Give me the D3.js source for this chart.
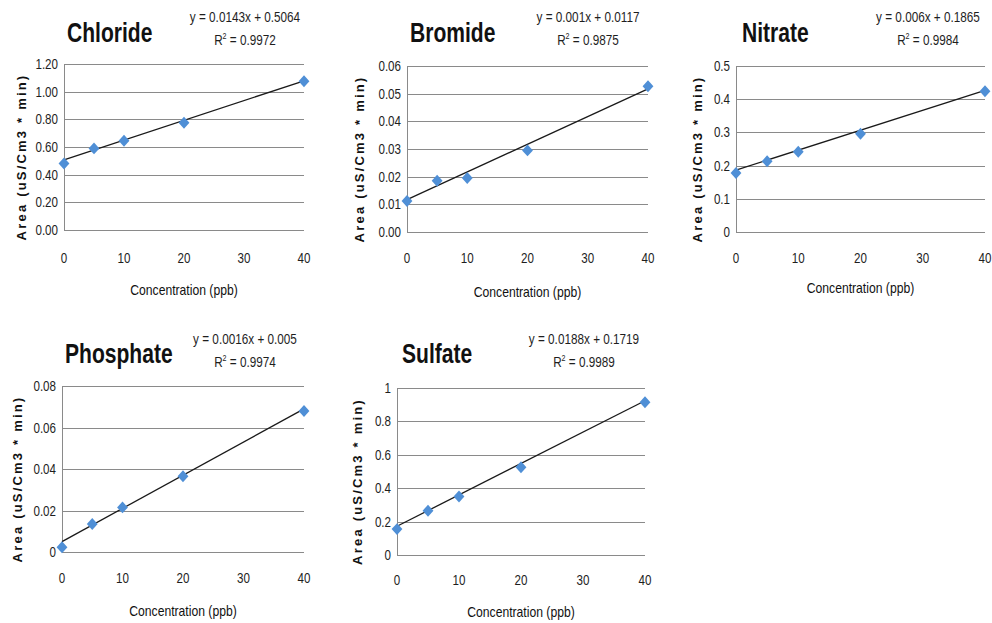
<!DOCTYPE html>
<html>
<head>
<meta charset="utf-8">
<script src="https://cdn.jsdelivr.net/npm/d3@7"></script>
<style>
  body { margin: 0; background: #fff; }
  svg { display: block; }
  text { font-family: "Liberation Sans", Arial, sans-serif; }
</style>
</head>
<body>
<div id="chart"></div>
<script>
// values
const ions = ["Chloride", "Bromide", "Nitrate", "Phosphate", "Sulfate"];
const concentration = [0, 5, 10, 20, 40];
const chlorideArea = [0.48, 0.59, 0.645, 0.775, 1.075];
const bromideArea = [0.0112, 0.0185, 0.0195, 0.0295, 0.0527];
const nitrateArea = [0.178, 0.213, 0.242, 0.296, 0.424];
const phosphateArea = [0.0023, 0.0135, 0.0215, 0.0365, 0.068];
const sulfateArea = [0.155, 0.265, 0.35, 0.525, 0.915];
const slopes = ["0.0143", "0.001", "0.006", "0.0016", "0.0188"];
const intercepts = ["0.5064", "0.0117", "0.1865", "0.005", "0.1719"];
const rSquared = ["0.9972", "0.9875", "0.9984", "0.9974", "0.9989"];
const xTicks = [0, 10, 20, 30, 40];
const chlorideTicks = [0, 0.2, 0.4, 0.6, 0.8, 1.0, 1.2];
const bromideTicks = [0, 0.01, 0.02, 0.03, 0.04, 0.05, 0.06];
const nitrateTicks = [0, 0.1, 0.2, 0.3, 0.4, 0.5];
const phosphateTicks = [0, 0.02, 0.04, 0.06, 0.08];
const sulfateTicks = [0, 0.2, 0.4, 0.6, 0.8, 1];
const tickFormats = [d3.format(".2f"), d3.format(".2f"), d3.format(""), d3.format(""), d3.format("")];

const areas = [chlorideArea, bromideArea, nitrateArea, phosphateArea, sulfateArea];
const yTicksAll = [chlorideTicks, bromideTicks, nitrateTicks, phosphateTicks, sulfateTicks];

// plot boxes on the page
const boxes = [
  { l: 64, r: 304, t: 64, b: 230, eqx: 245, eqy: 22, tx: 67, ty: 42, ylx: 26, tickY: 263, labY: 295 },
  { l: 407, r: 648, t: 66, b: 232, eqx: 588, eqy: 22, tx: 410, ty: 42, ylx: 364, tickY: 263, labY: 297 },
  { l: 736, r: 985, t: 66, b: 232, eqx: 928, eqy: 22, tx: 742, ty: 42, ylx: 702, tickY: 263, labY: 293 },
  { l: 62, r: 304, t: 386, b: 552, eqx: 245, eqy: 344, tx: 65, ty: 363, ylx: 22, tickY: 583, labY: 616 },
  { l: 397, r: 645, t: 388, b: 555, eqx: 584, eqy: 344, tx: 402, ty: 363, ylx: 362, tickY: 585, labY: 617 }
];

// the source font is a condensed one, squeeze Liberation Sans to match
const squeeze = 0.8;

// excel style diamond, about as wide as tall
const diamond = {
  draw(ctx, size) {
    const w = Math.sqrt(size / 2) * 0.95, h = Math.sqrt(size / 2) * 1.05;
    ctx.moveTo(0, -h); ctx.lineTo(w, 0); ctx.lineTo(0, h); ctx.lineTo(-w, 0); ctx.closePath();
  }
};

const W = 992, H = 623;
const svg = d3.select("#chart").append("svg").attr("width", W).attr("height", H);

ions.forEach((ion, i) => {
  const box = boxes[i];
  const ticks = yTicksAll[i];
  const g = svg.append("g");

  const x = d3.scaleLinear().domain([0, 40]).range([box.l, box.r]);
  const y = d3.scaleLinear().domain([0, d3.max(ticks)]).range([box.b, box.t]);

  // gridlines
  g.selectAll(".grid")
    .data(ticks)
    .join("line")
      .attr("class", "grid")
      .attr("x1", box.l)
      .attr("x2", box.r)
      .attr("y1", d => Math.round(y(d)) + 0.5)
      .attr("y2", d => Math.round(y(d)) + 0.5)
      .attr("stroke", "#8a8a8a")
      .attr("stroke-width", 1);

  // vertical axis line
  g.append("line")
    .attr("x1", box.l + 0.5).attr("x2", box.l + 0.5)
    .attr("y1", box.t).attr("y2", box.b)
    .attr("stroke", "#8a8a8a");

  // y tick labels
  g.selectAll(".ytick")
    .data(ticks)
    .join("text")
      .attr("class", "ytick")
      .attr("transform", d => `translate(${box.l - 6},${y(d) + 5}) scale(${squeeze},1)`)
      .attr("text-anchor", "end")
      .style("font-size", "14.5px")
      .attr("fill", "#1e1e1e")
      .text(tickFormats[i]);

  // x tick labels
  g.selectAll(".xtick")
    .data(xTicks)
    .join("text")
      .attr("class", "xtick")
      .attr("transform", d => `translate(${x(d)},${box.tickY}) scale(${squeeze},1)`)
      .attr("text-anchor", "middle")
      .style("font-size", "14.5px")
      .attr("fill", "#1e1e1e")
      .text(d => d);

  // trendline
  const m = +slopes[i], c = +intercepts[i];
  g.append("line")
    .attr("x1", x(0)).attr("y1", y(c))
    .attr("x2", x(40)).attr("y2", y(m * 40 + c))
    .attr("stroke", "#1a1a1a")
    .attr("stroke-width", 1.3);

  // points
  const pts = concentration.map((cc, k) => ({ cc, a: areas[i][k] }));
  g.selectAll(".pt")
    .data(pts)
    .join("path")
      .attr("class", "pt")
      .attr("d", d3.symbol(diamond, 65))
      .attr("transform", d => `translate(${x(d.cc)},${y(d.a)})`)
      .attr("fill", "#4f8fd6");

  // title
  g.append("text")
    .attr("transform", `translate(${box.tx},${box.ty}) scale(0.78,1)`)
    .style("font-size", "27px")
    .style("font-weight", "bold")
    .attr("fill", "#111")
    .text(ion);

  // equation + r squared
  g.append("text")
    .attr("transform", `translate(${box.eqx},${box.eqy}) scale(0.84,1)`)
    .attr("text-anchor", "middle")
    .style("font-size", "14px")
    .attr("fill", "#1e1e1e")
    .text(`y = ${slopes[i]}x + ${intercepts[i]}`);

  const r2 = g.append("text")
    .attr("transform", `translate(${box.eqx},${box.eqy + 23}) scale(0.84,1)`)
    .attr("text-anchor", "middle")
    .style("font-size", "14px")
    .attr("fill", "#1e1e1e");
  r2.append("tspan").text("R");
  r2.append("tspan").attr("dy", -6).style("font-size", "8.5px").text("2");
  r2.append("tspan").attr("dy", 6).text(` = ${rSquared[i]}`);

  // axis titles
  g.append("text")
    .attr("transform", `translate(${box.ylx},${(box.t + box.b) / 2 + 10}) rotate(-90)`)
    .attr("text-anchor", "middle")
    .style("font-size", "13px")
    .style("font-weight", "bold")
    .style("letter-spacing", "2.2px")
    .attr("fill", "#111")
    .text("Area (uS/Cm3 * min)");

  g.append("text")
    .attr("transform", `translate(${(box.l + box.r) / 2},${box.labY}) scale(0.84,1)`)
    .attr("text-anchor", "middle")
    .style("font-size", "14.5px")
    .attr("fill", "#111")
    .text("Concentration (ppb)");
});
</script>
</body>
</html>
